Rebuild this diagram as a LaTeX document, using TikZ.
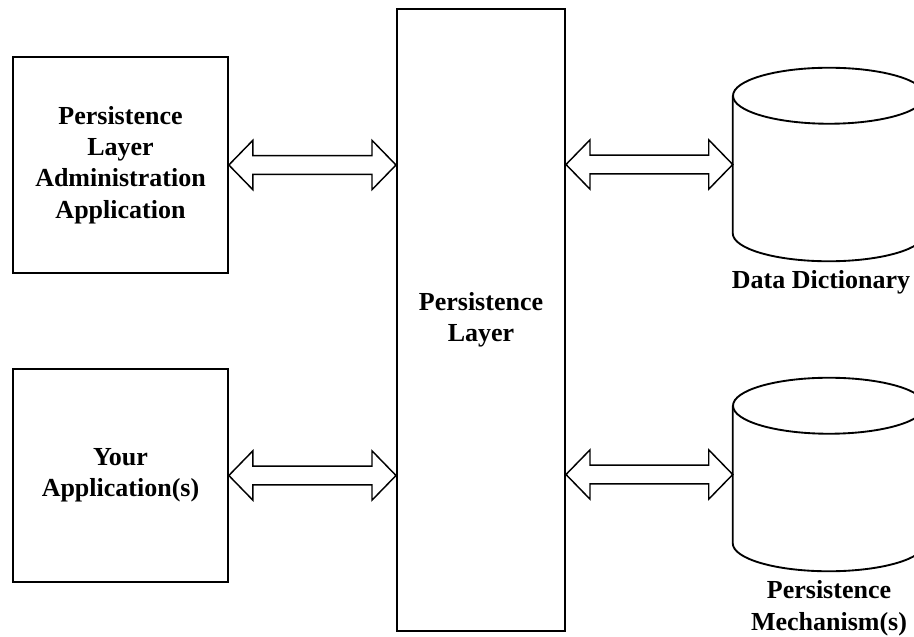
\documentclass[tikz,border=0pt]{standalone}
\usepackage{fontspec}
\setmainfont{Liberation Serif}
\usetikzlibrary{positioning,calc}
\tikzset{
    box/.style = {draw, line width=1.5pt, align=center,
                  font=\fontsize{19.5}{23.5}\selectfont\bfseries},
    drumbody/.style = {inner sep=0pt, minimum width=144pt, minimum height=144.75pt},
    drumline/.style = {line width=1.4pt},
    caption/.style = {align=center, inner sep=1pt,
                      font=\fontsize{19.5}{24}\selectfont\bfseries},
    pipe/.style = {line width=1.1pt, line join=miter}
}
% hollow two-headed arrow from #1 to #2 (same height)
\newcommand{\twoway}[2]{%
    \draw[pipe] let \p1=(#1), \p2=(#2) in
        (\p1) -- (\x1+18pt,\y1+18.5pt) -- (\x1+18pt,\y1+7pt)
        -- (\x2-18pt,\y1+7pt) -- (\x2-18pt,\y1+18.5pt) -- (\x2,\y1)
        -- (\x2-18pt,\y1-18.5pt) -- (\x2-18pt,\y1-7pt)
        -- (\x1+18pt,\y1-7pt) -- (\x1+18pt,\y1-18.5pt) -- cycle;}
% cylinder drawn round a node
\newcommand{\drum}[1]{%
    \draw[drumline] ([yshift=-21pt]#1.north west) -- ([yshift=21pt]#1.south west)
        arc[start angle=180, end angle=360, x radius=72pt, y radius=21pt]
        -- ([yshift=-21pt]#1.north east);
    \draw[drumline] ([yshift=-21pt]#1.north) ellipse [x radius=72pt, y radius=21pt];}

\begin{document}
\begin{tikzpicture}[x=0.75pt, y=-0.75pt]
    \useasboundingbox (0,0) rectangle (914,636);
    \node[box, minimum width=161pt, minimum height=162pt] (admin) at (120.5,165)
        {Persistence\\Layer\\Administration\\Application};
    \node[box, minimum width=161pt, minimum height=160pt] (app) at (120.5,475.5)
        {Your\\Application(s)};
    \node[box, minimum width=126pt, minimum height=466.5pt] (layer) at (481,320)
        {Persistence\\Layer};
    \node[drumbody] (dict) at (829,164.5) {};
    \node[drumbody] (mech) at (829,474.5) {};
    \drum{dict}
    \drum{mech}
    \node[caption, below=6pt of dict, xshift=-6pt] (dictname) {Data Dictionary};
    \node[caption, below=6pt of mech] (mechname) {Persistence\\Mechanism(s)};
    \twoway{admin.east}{layer.west |- admin.east}
    \twoway{app.east}{layer.west |- app.east}
    \twoway{layer.east |- dict.west}{dict.west}
    \twoway{layer.east |- mech.west}{mech.west}
\end{tikzpicture}
\end{document}
